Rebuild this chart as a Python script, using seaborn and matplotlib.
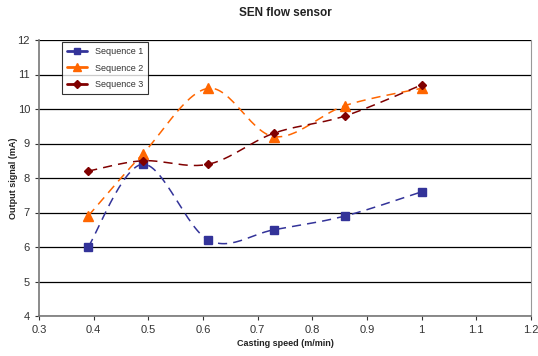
import numpy as np
import pandas as pd
import matplotlib
matplotlib.use("Agg")
import matplotlib.pyplot as plt
import seaborn as sns
from matplotlib.lines import Line2D

speed = [0.39, 0.49, 0.61, 0.73, 0.86, 1.0]
seq1 = [6.0, 8.4, 6.2, 6.5, 6.9, 7.6]
seq2 = [6.9, 8.7, 10.6, 9.2, 10.1, 10.6]
seq3 = [8.2, 8.5, 8.4, 9.3, 9.8, 10.7]
names = ["Sequence 1", "Sequence 2", "Sequence 3"]
colors = ["#333399", "#FF6600", "#800000"]
markers = ["s", "^", "D"]
msizes = [6, 7, 4.5]

sns.set_theme(style="white")
plt.rcParams["font.family"] = ["Liberation Sans", "DejaVu Sans"]


def smooth(x, y, n=30):
    # Excel-style smoothed line (Bezier with Catmull-Rom control points)
    P = np.column_stack([x, y]).astype(float)
    pts = []
    m = len(P)
    for i in range(m - 1):
        p0 = P[i - 1] if i > 0 else P[i]
        p1 = P[i]
        p2 = P[i + 1]
        p3 = P[i + 2] if i + 2 < m else P[i + 1]
        c1 = p1 + (p2 - p0) / 6.0
        c2 = p2 - (p3 - p1) / 6.0
        t = np.linspace(0, 1, n)[:, None]
        seg = ((1 - t) ** 3) * p1 + 3 * ((1 - t) ** 2) * t * c1 + 3 * (1 - t) * t ** 2 * c2 + t ** 3 * p2
        pts.append(seg if i == 0 else seg[1:])
    s = np.vstack(pts)
    return s[:, 0], s[:, 1]


fig = plt.figure(figsize=(5.38, 3.56), dpi=100)
ax = fig.add_axes([39 / 538, 1 - 316 / 356, (531 - 39) / 538, (316 - 40) / 356])

for ys, name, c, mk, ms in zip([seq1, seq2, seq3], names, colors, markers, msizes):
    sx, sy = smooth(speed, ys)
    sns.lineplot(x=sx, y=sy, ax=ax, color=c, lw=1.1, sort=False,
                 linestyle=(0, (6, 4)), legend=False)
    ax.plot(speed, ys, linestyle="none", marker=mk, ms=ms, color=c, mec=c)

handles = [Line2D([], [], color=c, lw=2, marker=mk, ms=ms * 0.8, mec=c)
           for c, mk, ms in zip(colors, markers, msizes)]
leg = ax.legend(handles, names, loc="upper left", bbox_to_anchor=(23 / 492, 274 / 276),
                frameon=True, fancybox=False, fontsize=6.5, handlelength=2.2,
                borderpad=0.55, labelspacing=0.85, handletextpad=0.9, borderaxespad=0)
leg.get_frame().set_edgecolor("black")
leg.get_frame().set_linewidth(0.8)
for t in leg.get_texts():
    t.set_color("#333333")

ax.set_xlim(0.3, 1.2)
ax.set_ylim(4, 12)
ax.set_xticks(np.arange(0.3, 1.21, 0.1))
ax.set_xticklabels(["0.3", "0.4", "0.5", "0.6", "0.7", "0.8", "0.9", "1", "1.1", "1.2"])
ax.set_yticks(range(4, 13))
ax.yaxis.grid(True, color="black", lw=0.9)
ax.xaxis.grid(False)
ax.set_axisbelow(True)
ax.tick_params(axis="both", labelsize=8, colors="#333333", length=3, width=0.8, direction="out")
ax.tick_params(axis="x", bottom=True)
ax.tick_params(axis="y", left=True)
for side in ["left", "bottom"]:
    ax.spines[side].set_color("#777777")
    ax.spines[side].set_linewidth(1.2)
ax.spines["right"].set_color("#999999")
ax.spines["right"].set_linewidth(0.8)
ax.spines["top"].set_visible(False)

ax.set_xlabel("Casting speed (m/min)", fontsize=6.5, fontweight="bold", color="#222222", labelpad=3)
ax.set_ylabel("Output signal (mA)", fontsize=6.5, fontweight="bold", color="#222222")
ax.yaxis.set_label_coords(-21 / 492, 0.5)
fig.text(285 / 538, 1 - 13 / 356, "SEN flow sensor", ha="center", va="center",
         fontsize=8.5, fontweight="bold", color="#222222")

fig.savefig("out.png", dpi=100)
